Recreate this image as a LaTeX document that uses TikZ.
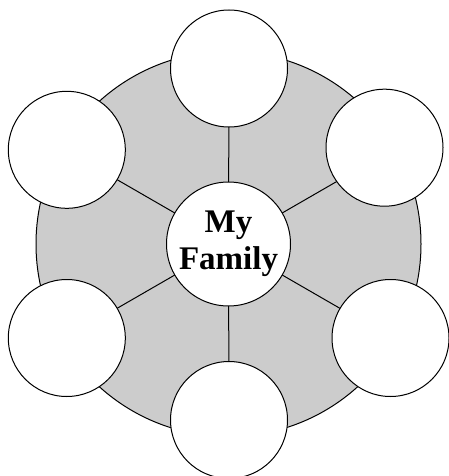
\documentclass[tikz,border=0pt]{standalone}
\usepackage{fontspec}
\setmainfont{Liberation Serif}
\begin{document}
\begin{tikzpicture}[x=1pt,y=-1pt,
  outer/.style={circle,draw=black,fill=white,line width=1pt,minimum size=117pt,inner sep=0pt},
  hub/.style={circle,draw=black,fill=white,line width=1pt,minimum size=124pt,inner sep=0pt,align=center,font=\fontsize{33}{37.5}\selectfont\bfseries},
  spoke/.style={draw=black,line width=1pt}]
\useasboundingbox (0,0) rectangle (448,476);
\fill[fill={rgb,255:red,204;green,204;blue,204},draw=black,line width=1pt] (228.5,244) circle (192.5);
\coordinate (c) at (228.5,244);
\coordinate (t) at (229,68.5);
\coordinate (ul) at (66.8,149.8);
\coordinate (ur) at (384.5,147.7);
\coordinate (ll) at (66.8,338);
\coordinate (lr) at (390.5,338);
\coordinate (b) at (229,420);
\draw[spoke] (c) -- (229,68.5);
\draw[spoke] (c) -- ++(150:190);
\draw[spoke] (c) -- ++(30:190);
\draw[spoke] (c) -- ++(210:190);
\draw[spoke] (c) -- ++(-30:190);
\draw[spoke] (c) -- (229,420);
\node[outer] (nt) at (t) {};
\node[outer] (nul) at (ul) {};
\node[outer] (nur) at (ur) {};
\node[outer] (nll) at (ll) {};
\node[outer] (nlr) at (lr) {};
\node[outer] (nb) at (b) {};
\node[hub] (hub) at (c) {My\\Family};
\end{tikzpicture}
\end{document}
